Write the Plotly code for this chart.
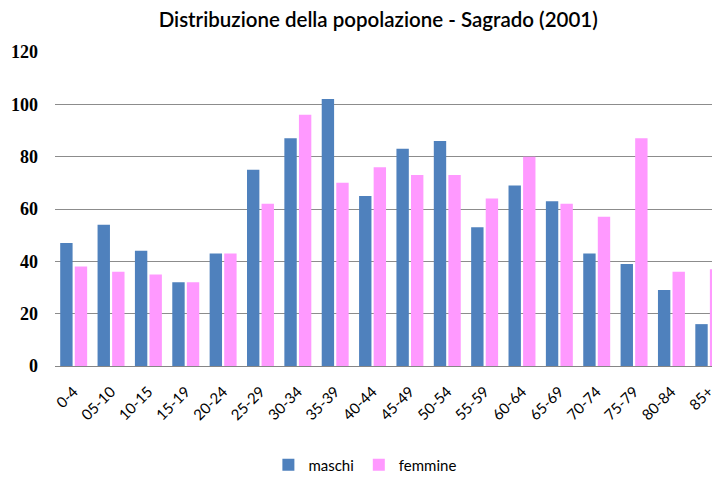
import plotly.graph_objects as go

categories = ["0-4", "05-10", "10-15", "15-19", "20-24", "25-29", "30-34", "35-39",
              "40-44", "45-49", "50-54", "55-59", "60-64", "65-69", "70-74", "75-79",
              "80-84", "85+"]
maschi = [47, 54, 44, 32, 43, 75, 87, 102, 65, 83, 86, 53, 69, 63, 43, 39, 29, 16]
femmine = [38, 36, 35, 32, 43, 62, 96, 70, 76, 73, 73, 64, 80, 62, 57, 87, 36, 37]
y_ticks = [0, 20, 40, 60, 80, 100, 120]

fig = go.Figure()
fig.add_trace(go.Bar(x=categories, y=maschi, name="maschi",
                     marker=dict(color="#4F81BD", line=dict(width=0))))
fig.add_trace(go.Bar(x=categories, y=femmine, name="femmine",
                     marker=dict(color="#FF99FF", line=dict(width=0))))

# page body has an 8px default margin, so the figure is 712x470
fig.update_layout(
    width=712, height=470,
    margin=dict(l=47, r=0, t=44, b=112, autoexpand=False),
    paper_bgcolor="white", plot_bgcolor="white",
    barmode="group", bargap=0.22, bargroupgap=0.15,
    title=dict(text="Distribuzione della popolazione - Sagrado (2001)",
               x=0.52, xanchor="center", y=0.974, yanchor="middle",
               font=dict(family="Lato", size=20.5, color="#000000", weight=600)),
    legend=dict(orientation="h", x=0.466, xanchor="center", y=-0.315, yanchor="middle",
                font=dict(family="Lato", size=15, color="#000000"),
                itemwidth=30, traceorder="normal"),
    xaxis=dict(type="category", range=[-0.5, 17.3], tickangle=-45, showgrid=False,
               showline=True, linecolor="#868686", linewidth=1, automargin=False,
               ticks="", ticklabelstandoff=10,
               tickfont=dict(family="Lato", size=15, color="#000000")),
    yaxis=dict(range=[0, 120], tickvals=y_ticks, showgrid=True, automargin=False,
               gridcolor="#8c8c8c", gridwidth=1, zeroline=False, showline=False,
               ticks="", ticklabelstandoff=16,
               tickfont=dict(family="Liberation Serif", size=18, color="#000000",
                             weight="bold")),
)
fig.write_html("out.html")
